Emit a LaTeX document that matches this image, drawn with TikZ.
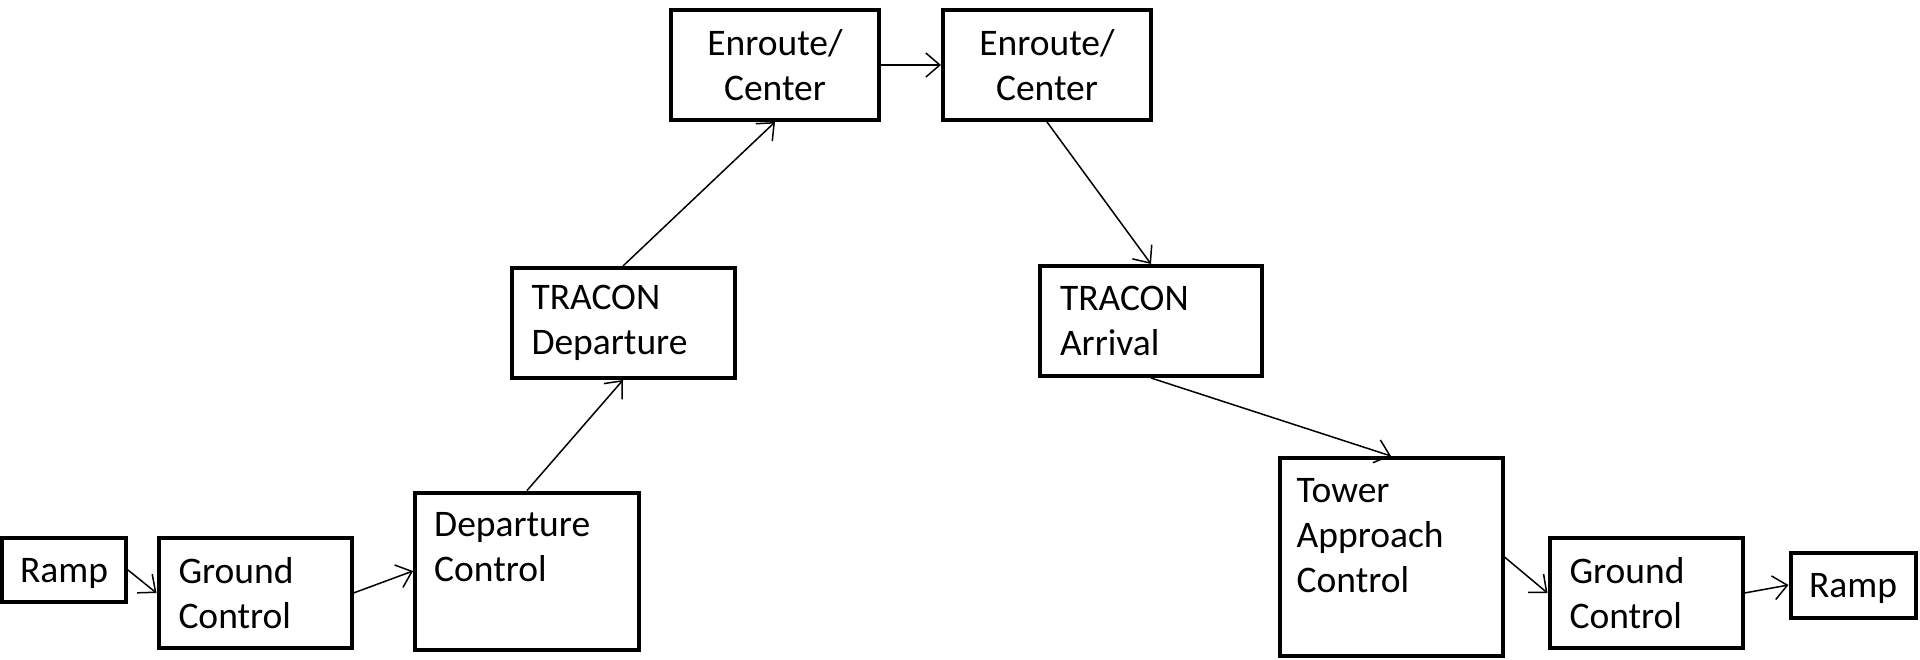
\documentclass[tikz,border=0pt]{standalone}
\usepackage{fontspec}
\setmainfont{Carlito}
\usetikzlibrary{arrows.meta}

\begin{document}
\begin{tikzpicture}[x=1pt,y=-1pt,
    box/.style={draw, line width=4pt, inner sep=0pt, font=\fontsize{37.5}{45}\selectfont},
    lbox/.style={box, align=left, inner xsep=20pt, text width=#1},
    txt/.style={inner sep=0pt, align=left, font=\fontsize{37.5}{45}\selectfont},
    flow/.style={-{Straight Barb[length=14pt,width=24pt,line width=1.5pt]}, line width=1.5pt}]
      \useasboundingbox (0,0) rectangle (1920,659);
      % departure side
      \node[name=ramp1, box, text depth=0pt, minimum width=124pt, minimum height=64pt] at (64,570) {Ramp};
      \node[name=ground1, lbox=153pt, minimum width=193pt, minimum height=110pt] at (255,593) {Ground\\Control};
      \node[name=depctl, box, minimum width=224pt, minimum height=157pt] at (527,571) {};
      \node[txt, anchor=north west] at ([shift={(21pt,-22pt)}]depctl.north west) {Departure\\Control};
      \node[name=tracondep, lbox=183pt, minimum width=223pt, minimum height=110pt] at (623,323) {TRACON\\Departure};
      % enroute
      \node[name=enroute1, box, align=center, minimum width=208pt, minimum height=110pt] at (775,65) {Enroute/\\Center};
      \node[name=enroute2, box, align=center, minimum width=208pt, minimum height=110pt] at (1047,65) {Enroute/\\Center};
      % arrival side
      \node[name=traconarr, lbox=182pt, minimum width=222pt, minimum height=110pt] at (1151,321) {TRACON\\Arrival};
      \node[name=tower, box, minimum width=223pt, minimum height=198pt] at (1391,557) {};
      \node[txt, anchor=north west] at ([shift={(19pt,-22pt)}]tower.north west) {Tower\\Approach\\Control};
      \node[name=ground2, lbox=153pt, minimum width=193pt, minimum height=110pt] at (1646,593) {Ground\\Control};
      \node[name=ramp2, box, text depth=0pt, minimum width=125pt, minimum height=65pt] at (1853,585) {Ramp};
      % connectors
      \draw[flow] (ramp1.east) -- (ground1.west);
      \draw[flow] (ground1.east) -- (depctl.west);
      \draw[flow] (depctl.north) -- (tracondep.south);
      \draw[flow] (tracondep.north) -- (enroute1.south);
      \draw[flow] (enroute1.east) -- (enroute2.west);
      \draw[flow] (enroute2.south) -- (traconarr.north);
      \draw[flow] (traconarr.south) -- (tower.north);
      \draw[flow] (tower.east) -- (ground2.west);
      \draw[flow] (ground2.east) -- (ramp2.west);
   \end{tikzpicture}
\end{document}
